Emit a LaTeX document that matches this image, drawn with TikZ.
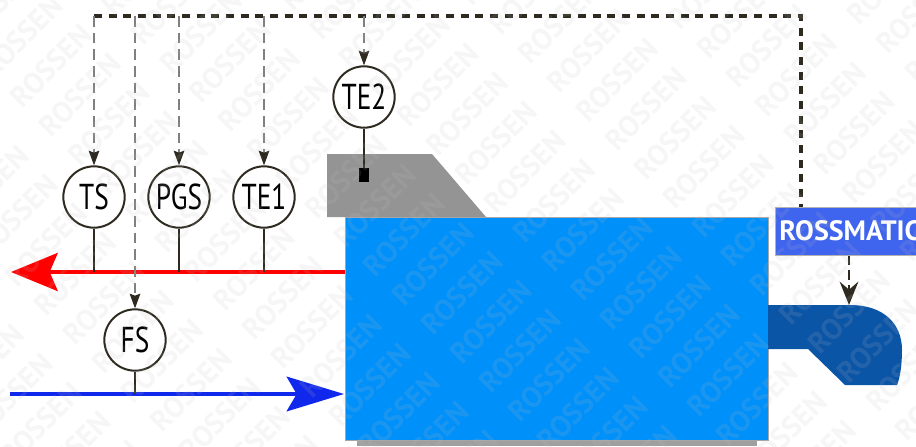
\documentclass[tikz,border=0pt]{standalone}
\usepackage{fontspec}
\setmainfont{PT Sans}
\usetikzlibrary{positioning}
\usetikzlibrary{arrows.meta}
\definecolor{tankblue}{HTML}{0090FA}
\definecolor{valveblue}{HTML}{0B55A6}
\definecolor{boxblue}{HTML}{3F64EE}
\definecolor{wirecolor}{HTML}{2E2A20}
\definecolor{flowblue}{HTML}{1028EB}
\newcommand{\sensorlabel}[1]{\scalebox{0.76}[1]{#1}}
\begin{document}
\begin{tikzpicture}[x=0.75pt,y=-0.75pt,>={Stealth[length=11pt,width=8pt,inset=1.5pt,color=wirecolor]},
                    sensor node/.style={circle,draw=wirecolor,fill=white,line width=1.5pt,inner sep=0,
                            minimum size=46pt,font=\fontsize{27}{27}\selectfont},
                    signal line/.style={draw=black!50,dash pattern=on 8pt off 4.5pt,line width=0.9pt},
                    bus line/.style={draw=wirecolor,line width=3pt,dash pattern=on 6pt off 5pt},
                    stem line/.style={draw=wirecolor,line width=1.3pt},
                    watermark node/.style={rotate=45,text=black!25,opacity=0.14,
                            font=\bfseries\fontsize{22}{22}\selectfont}]

                \useasboundingbox (0,0) rectangle (916,446);
                \clip (0,0) rectangle (916,446);

                \fill[gray!75] (357,440) rectangle (757,446);
                \fill[black!42] (327,154) -- (432,154) -- (486,217) -- (327,217) -- cycle;
                \node[fill=tankblue,draw=black!35,line width=0.4pt,inner sep=0,minimum width=317.25pt,minimum height=167.25pt] (tank) at (556.5,328.5) {};
                \fill[valveblue] (768,305) -- (850,305) .. controls (885,305) and (902,325) .. (902,350)
                    .. controls (902,365) and (900,378) .. (897,385) -- (845,385) -- (808,349) -- (768,349) -- cycle;
                \node[fill=boxblue,draw=black!30,line width=0.4pt,anchor=north west,inner sep=0,minimum width=135pt,minimum height=36pt] (rossmatic) at (775,207) {};
                \node[anchor=west,inner sep=0,text=white,font=\bfseries\fontsize{21}{21}\selectfont] (rosslabel) at (779,231) {ROSSMATIC};

                \node[sensor node] (ts) at (94,197) {\sensorlabel{TS}};
                \node[sensor node] (pgs) at (179,197) {\sensorlabel{PGS}};
                \node[sensor node] (te1) at (264,197) {\sensorlabel{TE1}};
                \node[sensor node] (te2) at (364,97) {\sensorlabel{TE2}};
                \node[sensor node] (fs) at (135,340) {\sensorlabel{FS}};
                \node[fill=black,inner sep=0,minimum width=8pt,minimum height=10pt] (probe) at (364,175) {};

                \coordinate (bus ts) at (94,16);
                \coordinate (bus fs) at (135,16);
                \coordinate (bus pgs) at (179,16);
                \coordinate (bus te1) at (264,16);
                \coordinate (bus te2) at (364,16);
                \coordinate (bus end) at (801,16);
                \coordinate (bus drop) at (801,207);
                \coordinate (red end) at (11,272);
                \coordinate (red start) at (345,272);
                \coordinate (blue start) at (10,394);
                \coordinate (blue end) at (344,394);
                \coordinate (valve top) at (849,305);

                \path[draw=red,line width=3pt,-{Stealth[length=35pt,width=28.5pt,inset=6pt]}] (red start) -- (red end);
                \path[draw=flowblue,line width=2.6pt,-{Stealth[length=43pt,width=26pt,inset=7.5pt]}] (blue start) -- (blue end);

                \draw[bus line] (bus ts) -- (bus end) -- (bus drop);
                \draw[signal line,->] (bus ts) -- (ts);
                \draw[signal line,->] (bus fs) -- (fs);
                \draw[signal line,->] (bus pgs) -- (pgs);
                \draw[signal line,->] (bus te1) -- (te1);
                \draw[signal line,->] (bus te2) -- (te2);
                \draw[draw=wirecolor,dash pattern=on 7pt off 4pt,line width=1.8pt,-{Stealth[length=17.5pt,width=14pt,inset=6pt]}] (rossmatic.south -| valve top) -- (valve top);

                \draw[stem line] (ts) -- (ts |- red end);
                \draw[stem line] (pgs) -- (pgs |- red end);
                \draw[stem line] (te1) -- (te1 |- red end);
                \draw[stem line] (fs) -- (fs |- blue end);
                \draw[stem line] (te2) -- (probe);

                \foreach \row in {0,...,24}
                    \foreach \col in {-3,...,6} {
                        \pgfmathtruncatemacro{\markx}{\col*92+\row*29-7}
                        \pgfmathtruncatemacro{\marky}{-\col*92+\row*29+8}
                        \ifnum\markx>-45 \ifnum\markx<961 \ifnum\marky>-45 \ifnum\marky<491
                            \node[watermark node] (mark \row-\col) at (\markx,\marky) {ROSSEN};
                        \fi\fi\fi\fi
                    }
            \end{tikzpicture}
\end{document}
